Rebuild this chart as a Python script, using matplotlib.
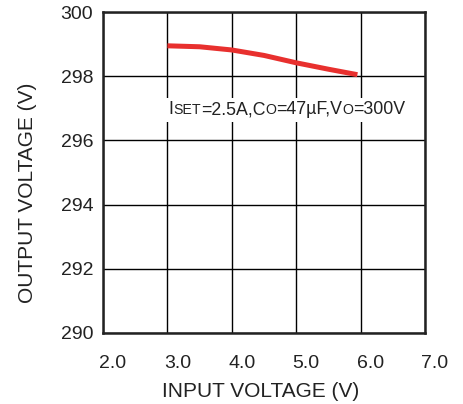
import matplotlib
matplotlib.use('Agg')
import matplotlib.pyplot as plt
import matplotlib.transforms as mtransforms
from matplotlib.offsetbox import TextArea, HPacker, AnnotationBbox

plt.rcParams['font.family'] = ['Liberation Sans', 'DejaVu Sans']

# data
vin = [3.0, 3.5, 4.0, 4.5, 5.0, 5.5, 5.95]
vout = [298.95, 298.92, 298.82, 298.65, 298.42, 298.22, 298.05]
x_ticks = [2.0, 3.0, 4.0, 5.0, 6.0, 7.0]
y_ticks = [290, 292, 294, 296, 298, 300]

fig = plt.figure(figsize=(4.64, 4.04), dpi=100)
ax = fig.add_axes([0.222, 0.176, 0.694, 0.794])

ax.set_xlim(2.0, 7.0)
ax.set_ylim(290, 300)
ax.set_xticks(x_ticks)
ax.set_xticklabels([f'{t:.1f}' for t in x_ticks])
ax.set_yticks(y_ticks)
ax.set_yticklabels([str(t) for t in y_ticks])
ax.tick_params(length=0, labelsize=14, colors='#222222')
ax.tick_params(axis='x', pad=16)
ax.tick_params(axis='y', pad=7)

# x tick labels sit a bit to the right of the grid lines in the original
offset = mtransforms.ScaledTranslation(10 / 100, 0, fig.dpi_scale_trans)
for label in ax.get_xticklabels():
    label.set_transform(label.get_transform() + offset)

ax.grid(True, color='black', linewidth=1.0)
ax.set_axisbelow(True)
for s in ax.spines.values():
    s.set_linewidth(1.8)
    s.set_color('#222222')

ax.plot(vin, vout, color='#e8302e', linewidth=3.6, solid_capstyle='butt', zorder=3)

ax.set_xlabel('INPUT VOLTAGE (V)', fontsize=15, color='#222222')
ax.set_ylabel('OUTPUT VOLTAGE (V)', fontsize=15, color='#222222')
ax.xaxis.set_label_coords(0.49, -0.152)
ax.yaxis.set_label_coords(-0.205, 0.436)

# condition note with small-cap subscripts
big = dict(size=12.8, color='#222222')
small = dict(size=10.2, color='#222222')
parts = [('I', big), ('SET', small), ('=2.5A,C', big), ('O', small),
         ('=47\u00b5F,V', big), ('O', small), ('=300V', big)]
pack = HPacker(children=[TextArea(t, textprops=p) for t, p in parts],
               align='baseline', pad=0, sep=0)
ab = AnnotationBbox(pack, (0.571, 0.695), xycoords='axes fraction',
                    frameon=True, pad=0.25,
                    bboxprops=dict(facecolor='white', edgecolor='none'))
ab.set_zorder(4)
ax.add_artist(ab)

fig.savefig('out.png', dpi=100)
